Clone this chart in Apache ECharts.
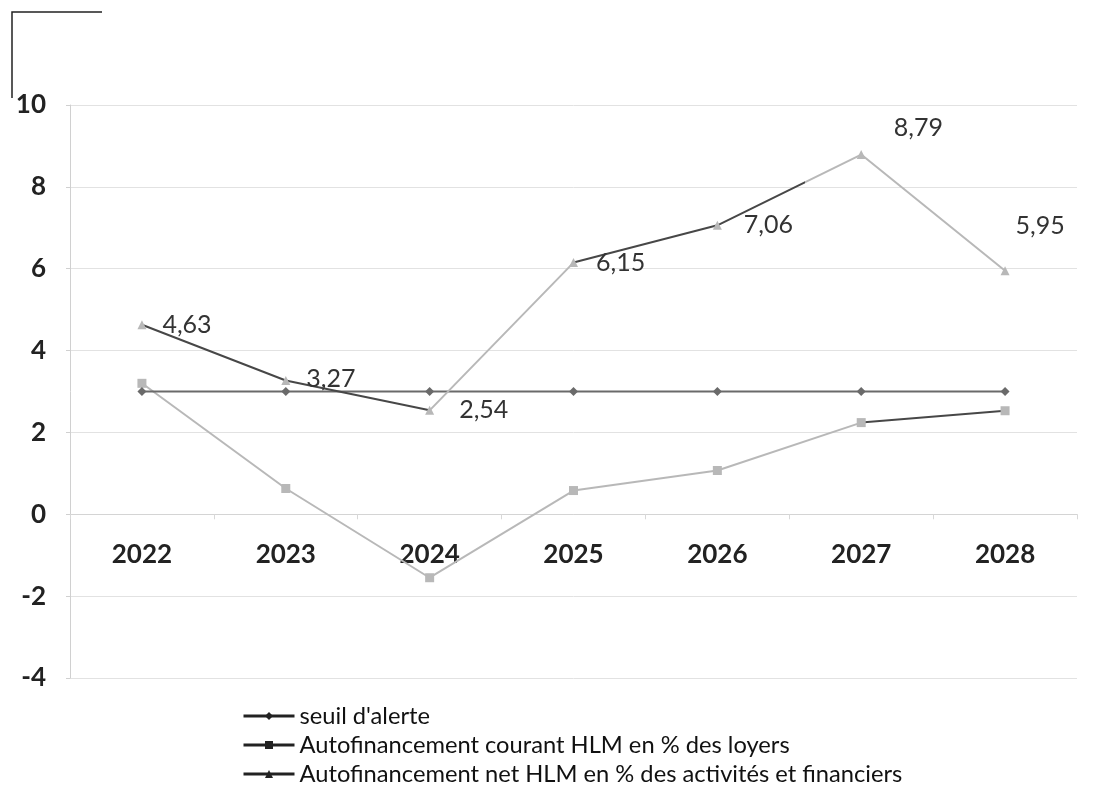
<!DOCTYPE html>
<html><head><meta charset="utf-8">
<script src="https://cdn.jsdelivr.net/npm/echarts@6/dist/echarts.min.js"></script>
<style>html,body{margin:0;padding:0;background:#fff}#c{width:1096px;height:798px}</style>
</head><body><div id="c"></div>
<script>
const categories = ['2022','2023','2024','2025','2026','2027','2028'];
const seuil = [3, 3, 3, 3, 3, 3, 3];
const courant = [3.2, 0.63, -1.55, 0.58, 1.07, 2.24, 2.53];
const net = [4.63, 3.27, 2.54, 6.15, 7.06, 8.79, 5.95];
const yTicks = [-4, -2, 0, 2, 4, 6, 8, 10];
const names = ["seuil d'alerte", 'Autofinancement courant HLM en % des loyers', 'Autofinancement net HLM en % des activités et financiers'];

const font = 'Lato, "Open Sans", sans-serif';
const labelOffsets = [[0,0],[0,-2],[9,0],[2,0],[6,0],[12,-27],[-10,-45]];
const DARK = '#474747', LIGHT = '#b8b8b8';

function segGradient(segs) {
  const stops = [];
  segs.forEach(s => { stops.push({offset: s[0], color: s[2]}); stops.push({offset: s[1], color: s[2]}); });
  return new echarts.graphic.LinearGradient(0, 0, 1, 0, stops);
}
const n = categories.length - 1;
const netColor = segGradient([[0, 2/n, DARK], [2/n, 3/n, LIGHT], [3/n, 4.6/n, DARK], [4.6/n, 1, LIGHT]]);
const courantColor = segGradient([[0, 5/n, LIGHT], [5/n, 1, DARK]]);

const chart = echarts.init(document.getElementById('c'));
chart.setOption({
  animation: false,
  backgroundColor: '#fff',
  grid: {left: 70, right: 19, top: 105, bottom: 120, containLabel: false},
  xAxis: {
    type: 'category', data: categories, boundaryGap: true,
    axisLine: {onZero: true, lineStyle: {color: '#d4d4d4', width: 1}},
    axisTick: {show: true, length: 5, lineStyle: {color: '#d8d8d8'}},
    axisLabel: {color: '#222', fontSize: 26, fontWeight: 'bold', fontFamily: font, margin: -136}
  },
  yAxis: {
    type: 'value', min: yTicks[0], max: yTicks[yTicks.length-1], interval: 2,
    axisLine: {show: true, lineStyle: {color: '#d0d0d0'}},
    axisTick: {show: true, length: 4, lineStyle: {color: '#d0d0d0'}},
    axisLabel: {color: '#222', fontSize: 26, fontWeight: 'bold', fontFamily: font, margin: 24},
    splitLine: {lineStyle: {color: '#e2e2e2', width: 1}}
  },
  legend: {
    orient: 'vertical', left: 237, top: 699, itemGap: 5, itemWidth: 51, itemHeight: 10,
    textStyle: {color: '#111', fontSize: 23.7, fontFamily: font},
    data: [
      {name: names[0], itemStyle: {color: '#222'}, lineStyle: {color: '#222', width: 3}},
      {name: names[1], itemStyle: {color: '#222'}, lineStyle: {color: '#222', width: 3}},
      {name: names[2], itemStyle: {color: '#222'}, lineStyle: {color: '#222', width: 3}}
    ]
  },
  series: [
    {name: names[0], type: 'line', data: seuil, symbol: 'diamond', symbolSize: 9,
     lineStyle: {color: '#6a6a6a', width: 2}, itemStyle: {color: '#6a6a6a'}, z: 3},
    {name: names[1], type: 'line', data: courant, symbol: 'rect', symbolSize: 9,
     lineStyle: {width: 2, color: courantColor}, itemStyle: {color: LIGHT}, z: 2},
    {name: names[2], type: 'line', data: net.map((v, i) => ({value: v, label: {offset: labelOffsets[i]}})),
     symbol: 'triangle', symbolSize: 9,
     lineStyle: {width: 2, color: netColor}, itemStyle: {color: LIGHT}, z: 4,
     label: {show: true, position: 'right', distance: 16, color: '#333', fontSize: 25, fontFamily: font,
       formatter: p => p.value.toFixed(2).replace('.', ',')}}
  ],
  graphic: [
    {type: 'polyline', shape: {points: [[12, 98], [12, 12], [102, 12]]}, style: {stroke: '#222', lineWidth: 1.5, fill: null}}
  ]
});
</script></body></html>
